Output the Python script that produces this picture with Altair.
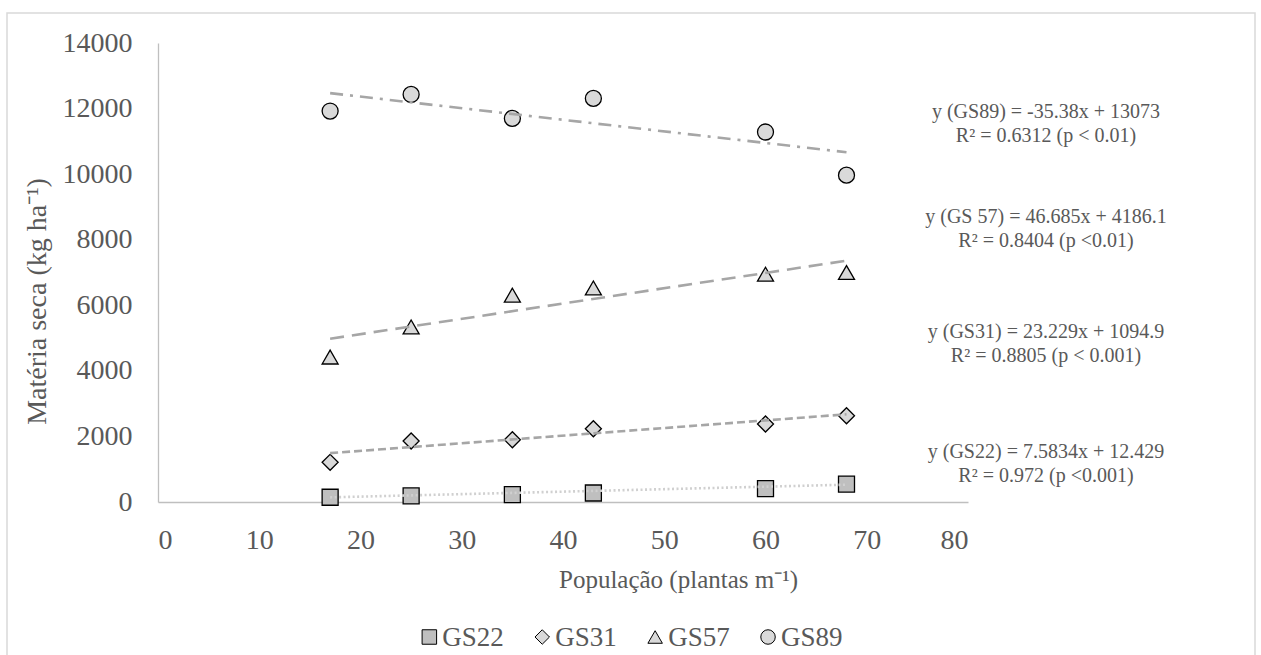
import altair as alt
import pandas as pd

# Plant population (plants per metre) and dry matter (kg/ha) at each growth stage
populacao = [17, 25, 35, 43, 60, 68]
estadios = ["GS22", "GS31", "GS57", "GS89"]
ms_gs22 = [145, 185, 225, 275, 405, 545]
ms_gs31 = [1210, 1860, 1900, 2235, 2380, 2630]
ms_gs57 = [4420, 5340, 6310, 6530, 6950, 7000]
ms_gs89 = [11925, 12430, 11700, 12310, 11285, 9970]

# Fitted linear regressions (slope, intercept) and their labels
inclinacao = [7.5834, 23.229, 46.685, -35.38]
intercepto = [12.429, 1094.9, 4186.1, 13073]
equacoes = [
    "y (GS22) = 7.5834x + 12.429\nR² = 0.972 (p <0.001)",
    "y (GS31) = 23.229x + 1094.9\nR² = 0.8805 (p < 0.001)",
    "y (GS 57) = 46.685x + 4186.1\nR² = 0.8404 (p <0.01)",
    "y (GS89) = -35.38x + 13073\nR² = 0.6312 (p < 0.01)",
]

# Layout of the equation blocks (data units) and legend entries (x in data units)
eq_x = 87.7
eq_y = [1510, 5185, 8692, 11894]
leg_x = [26.8, 37.95, 49.1, 60.25]

FONT = "Liberation Serif"
TXT = "#595959"
SHAPES = ["square", "diamond", "triangle-up", "circle"]
FILLS = ["#BFBFBF", "#D9D9D9", "#D9D9D9", "#D9D9D9"]

pontos = pd.DataFrame(
    [
        {"pop": p, "ms": v, "serie": s}
        for s, vals in zip(estadios, [ms_gs22, ms_gs31, ms_gs57, ms_gs89])
        for p, v in zip(populacao, vals)
    ]
)

x0, x1 = min(populacao), max(populacao)
tendencia = pd.DataFrame(
    [
        {"pop": xx, "ms": a * xx + b, "serie": s}
        for s, a, b in zip(estadios, inclinacao, intercepto)
        for xx in (x0, x1)
    ]
)

rotulos = pd.DataFrame({"serie": estadios, "txt": equacoes, "y": eq_y, "x": [eq_x] * 4})
legenda_df = pd.DataFrame({"serie": estadios, "x": leg_x})

xscale = alt.Scale(domain=[0, 80], nice=False, zero=False)
yscale = alt.Scale(domain=[0, 14000], nice=False)
shape_scale = alt.Scale(domain=estadios, range=SHAPES)
fill_scale = alt.Scale(domain=estadios, range=FILLS)

xaxis = alt.Axis(
    values=list(range(0, 81, 10)),
    title="População (plantas m⁻¹)",
    titleFontSize=25,
    titleFontWeight="normal",
    titleColor=TXT,
    titleFont=FONT,
    titleX=520,
    titleY=85,
    titleBaseline="alphabetic",
    titleAlign="center",
    labelPadding=24,
)
yaxis = alt.Axis(
    values=list(range(0, 14001, 2000)),
    format="d",
    title="Matéria seca (kg ha⁻¹)",
    titleFontSize=28,
    titleFontWeight="normal",
    titleColor=TXT,
    titleFont=FONT,
    titleX=-113,
    titleY=258,
    titleBaseline="alphabetic",
    titleAlign="center",
    titleAngle=270,
    labelPadding=26,
)

moldura = (
    alt.Chart(pd.DataFrame({"k": [0]}))
    .mark_rect(filled=False, stroke="#D9D9D9", strokeWidth=1.5)
    .encode(x=alt.value(-151), x2=alt.value(1097), y=alt.value(-30), y2=alt.value(720))
)

marcadores = (
    alt.Chart(pontos)
    .mark_point(filled=True, stroke="black", strokeWidth=1.3, opacity=1, size=256)
    .encode(
        x=alt.X("pop:Q", scale=xscale, axis=xaxis),
        y=alt.Y("ms:Q", scale=yscale, axis=yaxis),
        shape=alt.Shape("serie:N", scale=shape_scale, legend=None),
        fill=alt.Fill("serie:N", scale=fill_scale, legend=None),
    )
)

linhas = (
    alt.Chart(tendencia)
    .mark_line(strokeWidth=2.6)
    .encode(
        x=alt.X("pop:Q", scale=xscale),
        y=alt.Y("ms:Q", scale=yscale),
        detail="serie:N",
        stroke=alt.Stroke(
            "serie:N",
            scale=alt.Scale(domain=estadios, range=["#D0D0D0", "#A6A6A6", "#A6A6A6", "#A6A6A6"]),
            legend=None,
        ),
        strokeDash=alt.StrokeDash(
            "serie:N",
            scale=alt.Scale(domain=estadios, range=[[2, 2.5], [8, 4], [14, 8], [13, 7, 3, 7]]),
            legend=None,
        ),
    )
)

textos = (
    alt.Chart(rotulos)
    .mark_text(
        font=FONT,
        fontSize=20,
        color=TXT,
        align="center",
        baseline="middle",
        lineBreak="\n",
        lineHeight=24,
    )
    .encode(x=alt.X("x:Q", scale=xscale), y=alt.Y("y:Q", scale=yscale), text="txt:N")
)

# Legend row under the x-axis title
leg_simbolos = (
    alt.Chart(legenda_df)
    .mark_point(filled=True, stroke="black", strokeWidth=1, opacity=1, size=210)
    .encode(
        x=alt.X("x:Q", scale=xscale),
        y=alt.value(594),
        shape=alt.Shape("serie:N", scale=shape_scale, legend=None),
        fill=alt.Fill("serie:N", scale=fill_scale, legend=None),
    )
)
leg_textos = (
    alt.Chart(legenda_df)
    .mark_text(font=FONT, fontSize=27, color=TXT, align="left", baseline="middle", dx=13)
    .encode(x=alt.X("x:Q", scale=xscale), y=alt.value(595), text="serie:N")
)

chart = (
    alt.layer(moldura, marcadores, linhas, textos, leg_simbolos, leg_textos)
    .properties(
        width=810,
        height=459,
        autosize=alt.AutoSizeParams(type="none"),
        padding={"left": 158, "top": 43, "right": 293, "bottom": 153},
        background="white",
    )
    .configure_view(stroke=None)
    .configure_axis(
        grid=False,
        ticks=False,
        tickSize=0,
        domainColor="#BFBFBF",
        domainWidth=1.3,
        labelFont=FONT,
        labelFontSize=28,
        labelColor=TXT,
    )
)

chart.save("out.html", embed_options={"renderer": "svg", "actions": False})
